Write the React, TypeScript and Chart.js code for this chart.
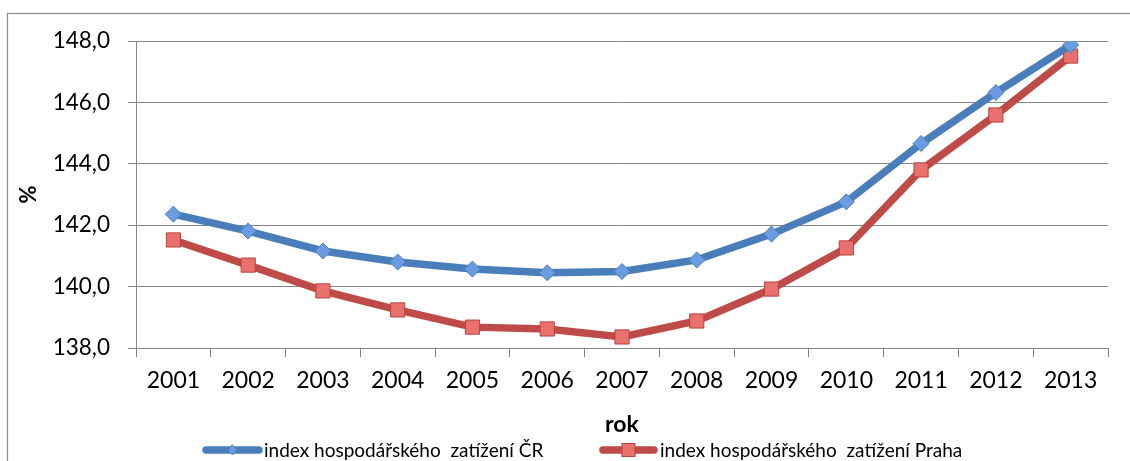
import React, { useEffect, useRef } from "react";
import { Chart, registerables } from "chart.js";

Chart.register(...registerables);

const years = ["2001", "2002", "2003", "2004", "2005", "2006", "2007", "2008", "2009", "2010", "2011", "2012", "2013"];
const indexCR = [142.36, 141.81, 141.16, 140.8, 140.57, 140.45, 140.49, 140.87, 141.71, 142.76, 144.66, 146.32, 147.87];
const indexPraha = [141.52, 140.7, 139.86, 139.24, 138.68, 138.62, 138.36, 138.88, 139.92, 141.26, 143.8, 145.59, 147.51];
const seriesNames = ["index hospodářského  zatížení ČR", "index hospodářského  zatížení Praha"];

const FONT = "Lato, 'Noto Sans', sans-serif";
const GRID = "#868686";

const framePlugin = {
  id: "frame",
  beforeDraw(chart: any) {
    const ctx = chart.ctx;
    ctx.save();
    ctx.fillStyle = "#fff";
    ctx.fillRect(0, 0, chart.width, chart.height);
    ctx.strokeStyle = "#8c8c8c";
    ctx.lineWidth = 1.2;
    ctx.strokeRect(7.5, 13.5, chart.width + 10, chart.height + 10);
    ctx.restore();
  },
};

const legendPlugin = {
  id: "customLegend",
  afterDraw(chart: any) {
    const ctx = chart.ctx;
    const items = [
      { x0: 203, x1: 262, tx: 264 },
      { x0: 600, x1: 657, tx: 660 },
    ];
    const y = 450;
    ctx.save();
    chart.data.datasets.forEach((ds: any, i: number) => {
      const it = items[i];
      ctx.strokeStyle = ds.borderColor;
      ctx.lineWidth = 7.5;
      ctx.lineCap = "round";
      ctx.beginPath();
      ctx.moveTo(it.x0 + 3, y);
      ctx.lineTo(it.x1 - 3, y);
      ctx.stroke();
      const cx = (it.x0 + it.x1) / 2;
      ctx.fillStyle = ds.pointBackgroundColor;
      ctx.strokeStyle = ds.pointBorderColor;
      ctx.lineWidth = 1;
      if (i === 0) {
        ctx.beginPath();
        ctx.moveTo(cx, y - 5);
        ctx.lineTo(cx + 4.5, y);
        ctx.lineTo(cx, y + 5);
        ctx.lineTo(cx - 4.5, y);
        ctx.closePath();
        ctx.fill();
        ctx.stroke();
      } else {
        ctx.fillRect(cx - 6.5, y - 6.5, 13, 13);
        ctx.strokeRect(cx - 6.5, y - 6.5, 13, 13);
      }
      ctx.fillStyle = "#000";
      ctx.font = `19px ${FONT}`;
      ctx.textBaseline = "middle";
      ctx.textAlign = "left";
      ctx.fillText(ds.label, it.tx, y + 1);
    });
    ctx.restore();
  },
};

export default function App() {
  const ref = useRef<HTMLCanvasElement>(null);
  useEffect(() => {
    document.body.style.margin = "0";
    const chart = new Chart(ref.current!, {
      type: "line",
      data: {
        labels: years,
        datasets: [
          {
            label: seriesNames[0],
            data: indexCR,
            borderColor: "#4A7EBB",
            borderWidth: 7.5,
            pointStyle: "rectRot",
            pointRadius: 8,
            pointBackgroundColor: "#6b9be0",
            pointBorderColor: "#4a7ebb",
            pointBorderWidth: 1,
            tension: 0,
          },
          {
            label: seriesNames[1],
            data: indexPraha,
            borderColor: "#BE4B48",
            borderWidth: 7.5,
            pointStyle: "rect",
            pointRadius: 10,
            pointBackgroundColor: "#e8706d",
            pointBorderColor: "#b8403d",
            pointBorderWidth: 1,
            tension: 0,
          },
        ],
      },
      options: {
        animation: false,
        responsive: false,
        devicePixelRatio: 1,
        layout: { padding: { left: 8, top: 41, right: 22, bottom: 0 } },
        plugins: { legend: { display: false }, tooltip: { enabled: false } },
        scales: {
          x: {
            offset: true,
            grid: { offset: true, drawOnChartArea: false, tickLength: 9, color: GRID },
            border: { color: GRID },
            ticks: { font: { family: FONT, size: 23 }, color: "#000", padding: 10, maxRotation: 0 },
            title: { display: true, text: "rok", font: { family: FONT, size: 23, weight: "bold" }, color: "#000", padding: { top: 4, bottom: 23 } },
            afterFit: (s: any) => { s.height = 113; },
          },
          y: {
            min: 138,
            max: 148,
            grid: { tickLength: 8, color: GRID },
            border: { color: GRID },
            ticks: {
              stepSize: 2,
              font: { family: FONT, size: 22.5 },
              color: "#000",
              padding: 18,
              callback: (v: any) => Number(v).toFixed(1).replace(".", ","),
            },
            title: { display: true, text: "%", font: { family: FONT, size: 22, weight: "bold" }, color: "#000", padding: { top: 8 } },
            afterFit: (s: any) => { s.width = 128; },
          },
        },
      },
      plugins: [framePlugin, legendPlugin],
    });
    return () => chart.destroy();
  }, []);
  return (
    <div style={{ position: "fixed", left: 0, top: 0, width: 1130, height: 461 }}>
      <canvas ref={ref} width={1130} height={461} />
    </div>
  );
}
